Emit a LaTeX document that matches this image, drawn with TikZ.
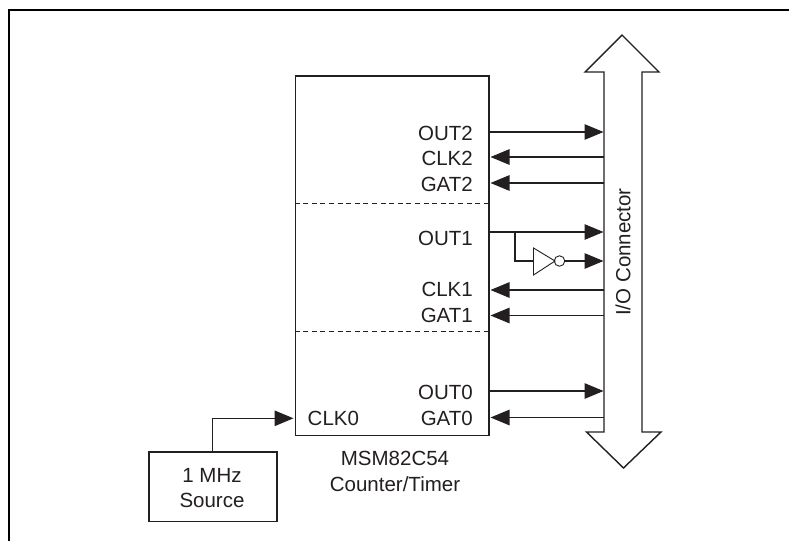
\documentclass[tikz,border=0pt]{standalone}
\usepackage{fontspec}
\setmainfont{Liberation Sans}
\usetikzlibrary{arrows.meta}
\definecolor{ink}{HTML}{231F20}
\tikzset{
  x=1pt,y=-1pt,
  line/.style={draw=ink,line width=1.2pt},
  heavy/.style={draw=ink,line width=1.5pt},
  sig/.style={line,-{Triangle[length=19pt,width=15.5pt,color=ink]},shorten >=0.5pt},
  lab/.style={font=\fontsize{20.5}{20.5}\selectfont,text=ink,inner sep=0pt},
  rlab/.style={lab,anchor=east},
  clab/.style={lab,anchor=center},
  divider/.style={draw=ink,line width=1.1pt,dash pattern=on 5pt off 3.6pt},
  busline/.style={draw=ink,line width=1.4pt,line join=miter,fill=white},
}
\begin{document}
\begin{tikzpicture}
\useasboundingbox (0,0) rectangle (789,541);
\fill[white] (0,0) rectangle (789,541);
% frame
\draw[black,line width=2.2pt,line cap=butt,line join=miter] (9,541) -- (9,10) -- (789,10);

% chip
\node[heavy,rectangle,inner sep=0pt,minimum width=193.5pt,minimum height=359.5pt,anchor=north west] (chip) at (294.5,75) {};
\coordinate (d2l) at (294.5,203.5); \coordinate (d2r) at (488,203.5);
\coordinate (d1l) at (294.5,331.5); \coordinate (d1r) at (488,331.5);
\draw[divider] (d2l) -- (d2r);
\draw[divider] (d1l) -- (d1r);

% bus
\draw[busline] (622,35) -- (659,72) -- (642,72) -- (642,432) -- (661,432) -- (623.5,468)
  -- (586.5,432) -- (604,432) -- (604,72) -- (585,72) -- cycle;
\node[inner sep=0pt,minimum width=38pt,minimum height=360pt,anchor=north west] (bus) at (604,72) {};
\node[clab,rotate=90] (buslabel) at (623,252) {I/O Connector};

% signal labels
\node[rlab] (out2) at (473,133) {OUT2};
\node[rlab] (clk2) at (473,158) {CLK2};
\node[rlab] (gat2) at (473,184) {GAT2};
\node[rlab] (out1) at (473,238) {OUT1};
\node[rlab] (clk1) at (473,289) {CLK1};
\node[rlab] (gat1) at (473,315) {GAT1};
\node[rlab] (out0) at (473,392) {OUT0};
\node[rlab] (gat0) at (473,418) {GAT0};
\node[lab,anchor=west] (clk0) at (307.5,418) {CLK0};
\node[clab] (chipa) at (395,458) {MSM82C54};
\node[clab] (chipb) at (395,484) {Counter/Timer};

% signals
\draw[sig] (488,132) -- (604,132);
\draw[sig] (604,157) -- (490,157);
\draw[sig] (604,183) -- (490,183);
\draw[sig] (488,232) -- (604,232);
\draw[sig] (604,290) -- (490,290);
\draw[sig] (604,315.5) -- (490,315.5);
\draw[sig] (488,391) -- (604,391);
\draw[sig] (604,417.5) -- (490,417.5);

% inverter
\draw[draw=ink,line width=0.9pt,line join=miter] (533.5,248) -- (555,261) -- (533.5,275) -- cycle;
\node[draw=ink,line width=0.9pt,circle,inner sep=0pt,minimum size=10.5pt] (bubble) at (559.5,261) {};
\coordinate (invin) at (533.5,261);
\coordinate (tap) at (515,232);
\draw[line] (tap) |- (invin);
\draw[sig] (bubble.east) -- (604,261);

% source
\node[heavy,rectangle,inner sep=0pt,minimum width=128pt,minimum height=69.5pt,anchor=north west] (src) at (148,451) {};
\node[clab] (srca) at (212,475) {1 MHz};
\node[clab] (srcb) at (212,500) {Source};
\coordinate (srctop) at (212.7,451);
\coordinate (clkin) at (294,418.3);
\draw[sig] (srctop) |- (clkin);
\end{tikzpicture}
\end{document}
